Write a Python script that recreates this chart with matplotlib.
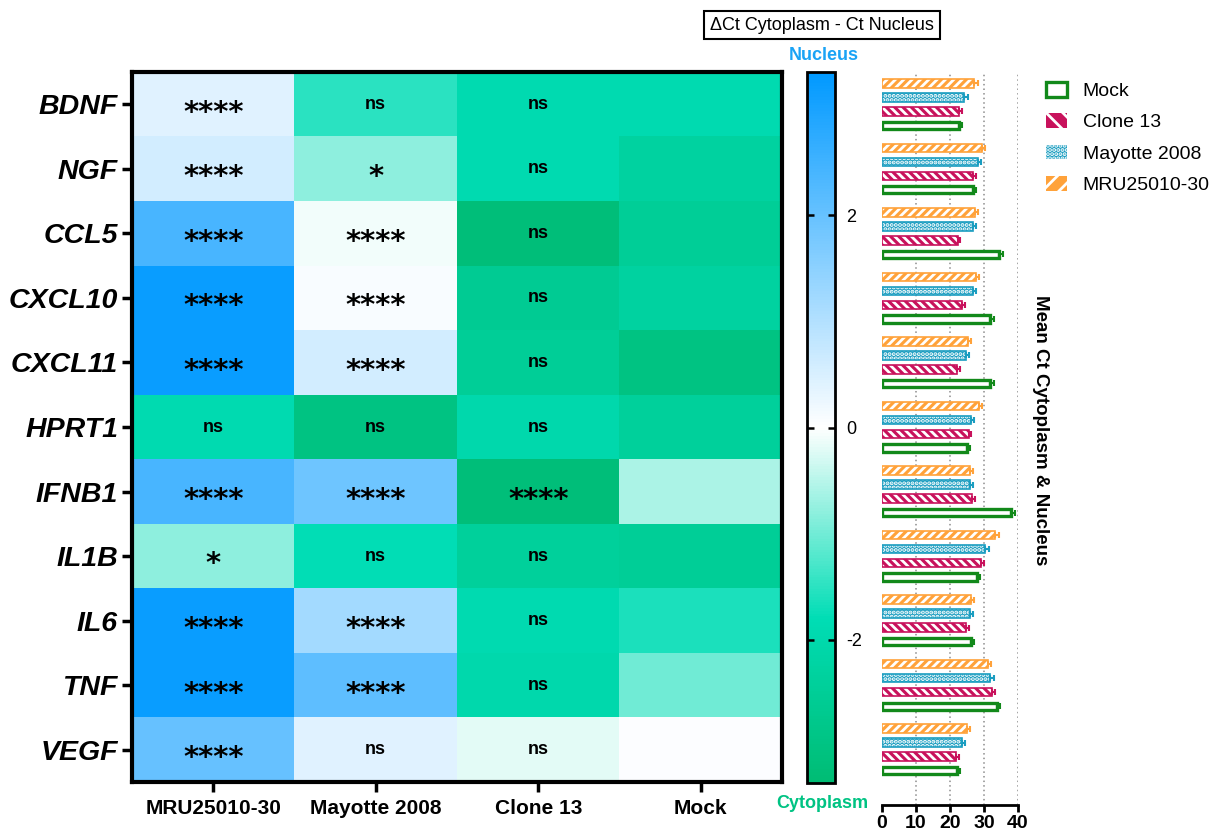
import numpy as np
import matplotlib
matplotlib.use("Agg")
import matplotlib.pyplot as plt
from matplotlib.colors import LinearSegmentedColormap
from matplotlib.patches import Patch

plt.rcParams['font.family'] = ['Liberation Sans', 'DejaVu Sans']
plt.rcParams['axes.unicode_minus'] = False
plt.rcParams['hatch.linewidth'] = 2.0

# ---- data ----
genes = ['BDNF', 'NGF', 'CCL5', 'CXCL10', 'CXCL11', 'HPRT1', 'IFNB1', 'IL1B', 'IL6', 'TNF', 'VEGF']
conditions = ['MRU25010-30', 'Mayotte 2008', 'Clone 13', 'Mock']

# delta Ct (cytoplasm - nucleus), one list per condition (columns of the heatmap)
dct_mru = [0.4, 0.6, 2.4, 3.2, 3.2, -1.9, 2.4, -0.8, 3.2, 3.2, 2.0]
dct_mayotte = [-1.5, -0.8, -0.1, 0.1, 0.6, -3.0, 1.9, -1.8, 1.2, 2.1, 0.4]
dct_clone13 = [-1.9, -1.9, -3.2, -2.6, -2.5, -2.0, -3.2, -2.4, -1.9, -2.0, -0.2]
dct_mock = [-1.9, -2.3, -2.5, -2.3, -3.0, -2.4, -0.6, -2.5, -1.6, -1.0, 0.05]

sig_mru = ['****', '****', '****', '****', '****', 'ns', '****', '*', '****', '****', '****']
sig_mayotte = ['ns', '*', '****', '****', '****', 'ns', '****', 'ns', '****', '****', 'ns']
sig_clone13 = ['ns', 'ns', 'ns', 'ns', 'ns', 'ns', '****', 'ns', 'ns', 'ns', 'ns']
sig_mock = [''] * 11

# mean Ct (cytoplasm & nucleus) per condition
ct_mock = [22.5, 26.8, 34.3, 31.9, 31.9, 25.0, 37.9, 27.9, 26.3, 33.8, 22.1]
ct_clone13 = [22.7, 26.8, 22.3, 23.5, 22.1, 25.5, 26.5, 29.1, 24.8, 32.4, 21.9]
ct_mayotte = [24.2, 28.1, 26.8, 26.8, 24.8, 26.2, 26.0, 30.4, 26.0, 31.9, 23.5]
ct_mru = [27.0, 29.4, 27.3, 27.5, 25.2, 28.4, 25.8, 33.3, 26.3, 31.2, 25.0]

err_mock = [0.9, 0.9, 1.2, 1.0, 1.0, 0.8, 1.3, 0.9, 0.8, 0.9, 0.8]
err_clone13 = [0.8, 0.8, 0.7, 0.9, 0.7, 0.8, 0.9, 0.9, 0.8, 0.9, 0.6]
err_mayotte = [1.2, 1.0, 0.8, 0.8, 0.8, 0.9, 0.9, 1.0, 0.8, 0.9, 0.9]
err_mru = [1.2, 0.8, 1.0, 1.1, 0.9, 0.9, 0.9, 1.1, 0.8, 0.8, 0.9]

# ---- figure ----
W, H = 1215, 836
fig = plt.figure(figsize=(W / 100, H / 100), dpi=100)


def px_axes(x0, y0, x1, y1):
    """Add axes from pixel box (left, top, right, bottom)."""
    return fig.add_axes([x0 / W, 1 - y1 / H, (x1 - x0) / W, (y1 - y0) / H])


vmin, vmax = -3.35, 3.35
cmap = LinearSegmentedColormap.from_list(
    'cyto_nuc',
    [(0.0, '#00BC74'), (0.23, '#00DDB5'), (0.5, '#FFFFFF'), (1.0, '#0099FF')])

# heatmap
ax = px_axes(132, 72, 782, 782)
mat = np.array([dct_mru, dct_mayotte, dct_clone13, dct_mock]).T
im = ax.imshow(mat, cmap=cmap, vmin=vmin, vmax=vmax, aspect='auto', interpolation='nearest')
sig = np.array([sig_mru, sig_mayotte, sig_clone13, sig_mock]).T
for i in range(len(genes)):
    for j in range(len(conditions)):
        s = sig[i, j]
        if not s:
            continue
        if s == 'ns':
            ax.text(j, i, s, ha='center', va='center', fontsize=13, fontweight='bold')
        else:
            ax.text(j, i + 0.13, s, ha='center', va='center', fontsize=21,
                    fontweight='bold', family='DejaVu Sans')
ax.set_xticks(range(len(conditions)))
ax.set_xticklabels(conditions, fontsize=15, fontweight='bold')
ax.set_yticks(range(len(genes)))
ax.set_yticklabels(genes, fontsize=20.5, fontweight='bold', fontstyle='italic')
ax.tick_params(axis='both', direction='out', length=7, width=2.5, pad=3)
ax.tick_params(axis='x', pad=5)
for sp in ax.spines.values():
    sp.set_linewidth(3)

# colorbar
cax = px_axes(807, 72, 835, 783)
cb = fig.colorbar(im, cax=cax, ticks=[-2, 0, 2])
cb.outline.set_linewidth(2)
cax.tick_params(direction='in', left=True, right=True, length=5, width=1.8,
                labelsize=13, pad=8)
fig.text(824 / W, 1 - 55 / H, 'Nucleus', color='#1AA3F5', fontsize=13,
         fontweight='bold', ha='center', va='center')
fig.text(822 / W, 1 - 803 / H, 'Cytoplasm', color='#00C383', fontsize=13,
         fontweight='bold', ha='center', va='center')
fig.text(822 / W, 1 - 25 / H, '\u0394Ct Cytoplasm - Ct Nucleus', fontsize=13,
         ha='center', va='center',
         bbox=dict(boxstyle='square,pad=0.32', fc='white', ec='black', lw=1.5))

# grouped bar chart of mean Ct
axb = px_axes(882, 72, 1018, 805)
row_px = 710 / len(genes)
pitch = 14 / row_px
bh = 8.5 / row_px
ypos = np.arange(len(genes))
series = [
    (ct_mru, err_mru, '#FFA23A', '////', -1.5, 'MRU25010-30'),
    (ct_mayotte, err_mayotte, '#1A9DC0', '....', -0.5, 'Mayotte 2008'),
    (ct_clone13, err_clone13, '#C8125C', '\\\\\\\\', 0.5, 'Clone 13'),
]
for vals, errs, col, hatch, off, lab in series:
    y = ypos + off * pitch
    axb.barh(y, vals, height=bh, color=col, edgecolor='white', hatch=hatch, linewidth=0, zorder=2)
    axb.barh(y, vals, height=bh, fill=False, edgecolor=col, linewidth=1.2, zorder=3)
    axb.errorbar(vals, y, xerr=[np.zeros(len(vals)), errs], fmt='none', ecolor=col,
                 elinewidth=1.5, capsize=2.5, capthick=1.5, zorder=3)
mock_green = '#12891A'
y = ypos + 1.5 * pitch
axb.barh(y, ct_mock, height=bh * 0.85, color='white', edgecolor=mock_green, linewidth=2.4, zorder=2)
axb.errorbar(ct_mock, y, xerr=[np.zeros(len(ct_mock)), err_mock], fmt='none', ecolor=mock_green,
             elinewidth=1.5, capsize=2.5, capthick=1.5, zorder=3)
axb.set_xlim(0, 40)
axb.set_ylim(len(genes) - 0.5 + (805 - 782) / row_px, -0.5)
for gx in [10, 20, 30, 40]:
    axb.axvline(gx, color='#8C8C8C', lw=1.1, ls=(0, (1, 2)), zorder=1)
axb.set_xticks([0, 10, 20, 30, 40])
axb.set_yticks([])
for s in ['left', 'top', 'right']:
    axb.spines[s].set_visible(False)
axb.spines['bottom'].set_linewidth(2)
axb.tick_params(axis='x', direction='out', length=5, width=2, labelsize=14, pad=2)
for t in axb.get_xticklabels():
    t.set_fontweight('bold')

fig.text(1040 / W, 1 - 430 / H, 'Mean Ct Cytoplasm & Nucleus', rotation=270,
         fontsize=13.5, fontweight='bold', ha='center', va='center')

handles = [
    Patch(facecolor='white', edgecolor=mock_green, linewidth=2.4, label='Mock'),
    Patch(facecolor='#C8125C', edgecolor='white', hatch='\\\\', linewidth=0, label='Clone 13'),
    Patch(facecolor='#1A9DC0', edgecolor='white', hatch='....', linewidth=0, label='Mayotte 2008'),
    Patch(facecolor='#FFA23A', edgecolor='white', hatch='//', linewidth=0, label='MRU25010-30'),
]
fig.legend(handles=handles, loc='upper left', bbox_to_anchor=(1038 / W, 1 - 74 / H),
           frameon=False, fontsize=14, handlelength=1.1, handleheight=0.8,
           handletextpad=0.8, labelspacing=0.68, borderaxespad=0)

fig.savefig('out.png', dpi=100)
